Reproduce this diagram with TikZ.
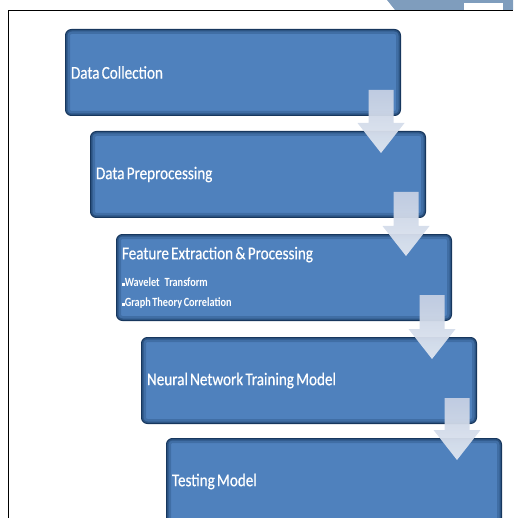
\documentclass[tikz,border=0pt]{standalone}
\usepackage{fontspec}
\setmainfont{Carlito}
\newfontfamily\boxfont{Carlito}[FakeStretch=0.84, FakeBold=0.4]
\newfontfamily\bulletfont{Carlito}[FakeStretch=0.82]
\usetikzlibrary{calc}

\definecolor{boxblue}{HTML}{4F81BD}
\definecolor{boxnavy}{HTML}{17375E}
\definecolor{arrowtop}{HTML}{C6D0E3}
\definecolor{arrowbot}{HTML}{E0E6F0}
\definecolor{cornerblue}{HTML}{7F9DBD}

\tikzset{
  stepbox/.style={anchor=north west, rounded corners=6, fill=boxblue, draw=boxnavy, line width=1,
    minimum height=86, text width=324, inner xsep=5.5, inner ysep=0, align=left,
    text=white, font=\boxfont\fontsize{18}{22}\selectfont,
    execute at begin node={\spaceskip=2.2pt\xspaceskip=2.2pt\relax},
    path picture={
      \draw[boxnavy, line width=9, opacity=0.25, rounded corners=6]
        (path picture bounding box.south west) rectangle (path picture bounding box.north east);
      \draw[boxnavy, line width=4, opacity=0.45, rounded corners=6]
        (path picture bounding box.south west) rectangle (path picture bounding box.north east);
    }},
  stagearrow/.style={top color=arrowtop, bottom color=arrowbot, draw=none, opacity=0.95},
}

\newcommand{\bulletline}[1]{{\bulletfont\bfseries\fontsize{12.5}{19}\selectfont\spaceskip=1.6pt\relax\rule[0.5pt]{2.8pt}{2.8pt}#1}}

% block arrow from one stage into the next
\newcommand{\stepdown}[2]{%
  \coordinate (#1-s) at ($(#1.south east)+(-20,-26)$);
  \coordinate (#1-h) at (#1-s |- #2.north);
  \path[stagearrow] ($(#1-s)+(-12.5,0)$) -- ($(#1-s)+(12.5,0)$) -- ($(#1-h)+(12.5,-8)$)
    -- ($(#1-h)+(23.5,-8)$) -- ($(#1-h)+(0,22)$) -- ($(#1-h)+(-23.5,-8)$)
    -- ($(#1-h)+(-12.5,-8)$) -- cycle;
}

\begin{document}
\begin{tikzpicture}[x=1pt,y=-1pt]

    \useasboundingbox (0,0) rectangle (513,518);
    \clip (0,0) rectangle (513,518);

    % top right corner piece
    \fill [cornerblue] (387,0) -- (513,0) -- (513,10) -- (395,10) -- cycle;
    \fill [white] (464,3) rectangle (503,10);
    \draw [line width=1] (8,518) -- (8,11) -- (513,11);

    \node [stepbox] (collect) at (65,29) {Data Collection};
    \node [stepbox] (prep) at (90,131) {Data Preprocessing};
    \node [stepbox] (feature) at (116,234) {Feature Extraction \& Processing\\[5pt]
      \bulletline{Wavelet\hspace{5pt}Transform}\\[-2pt]
      \bulletline{Graph Theory Correlation}};
    \node [stepbox] (train) at (141,337) {Neural Network Training Model};
    \node [stepbox] (test) at (166,438) {Testing Model};

    \stepdown{collect}{prep}
    \stepdown{prep}{feature}
    \stepdown{feature}{train}
    \stepdown{train}{test}

\end{tikzpicture}
\end{document}
